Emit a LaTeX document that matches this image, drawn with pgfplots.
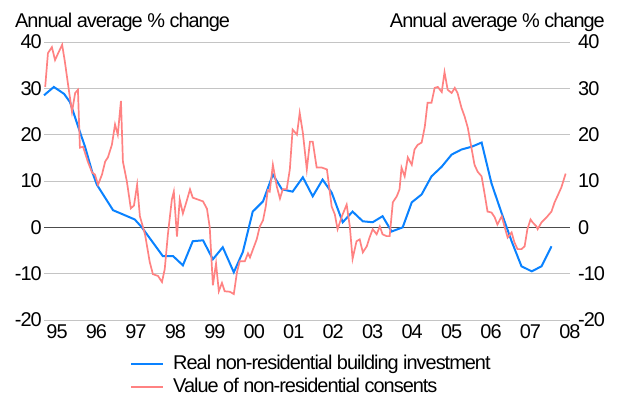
\documentclass[border=0pt]{standalone}
\usepackage{fontspec}
\setmainfont{Liberation Sans}[LetterSpace=-5]
\usepackage{pgfplots}
\usepackage{pgfplotstable}
\pgfplotsset{compat=1.18}
\definecolor{invblue}{HTML}{0A82FF}
\definecolor{conpink}{HTML}{FF8282}
\definecolor{gridgrey}{HTML}{C4C4C4}

% real non-residential building investment, annual average % change
\pgfplotstableread{
year value
1994.67 28.5
1994.92 30.3
1995.18 28.8
1995.33 27.0
1995.58 20.6
1995.71 17.4
1995.89 12.0
1996.01 9.2
1996.42 3.7
1996.97 1.7
1997.15 0.0
1997.68 -6.2
1997.94 -6.2
1998.19 -8.2
1998.44 -3.0
1998.70 -2.8
1998.95 -6.9
1999.20 -4.3
1999.48 -9.7
1999.71 -5.3
1999.96 3.4
2000.22 5.6
2000.47 11.4
2000.70 8.2
2000.97 7.7
2001.23 10.8
2001.48 6.7
2001.73 10.3
2001.96 7.5
2002.24 1.1
2002.49 3.4
2002.75 1.3
2003.00 1.1
2003.25 2.4
2003.48 -0.9
2003.76 0.0
2003.99 5.4
2004.24 7.1
2004.49 11.0
2004.75 13.1
2005.00 15.7
2005.25 16.8
2005.51 17.4
2005.76 18.3
2006.01 9.5
2006.27 3.0
2006.52 -3.0
2006.77 -8.4
2007.03 -9.5
2007.28 -8.4
2007.53 -4.1
}\investment

% value of non-residential consents, annual average % change
\pgfplotstableread{
year value
1994.70 30.3
1994.77 37.6
1994.87 38.9
1994.95 36.1
1995.03 37.6
1995.13 39.4
1995.20 35.7
1995.28 30.8
1995.38 24.9
1995.46 29.0
1995.53 29.7
1995.58 17.2
1995.66 17.4
1995.78 14.2
1995.89 11.8
1995.96 11.4
1996.04 9.2
1996.14 11.4
1996.22 14.2
1996.29 15.1
1996.39 17.8
1996.47 22.2
1996.54 20.0
1996.62 27.3
1996.67 14.2
1996.77 9.9
1996.87 4.1
1996.95 4.7
1997.03 9.2
1997.10 2.4
1997.23 -1.5
1997.35 -7.5
1997.43 -10.1
1997.56 -10.5
1997.66 -11.8
1997.73 -9.0
1997.81 -1.5
1997.91 6.0
1997.96 7.7
1998.04 -2.0
1998.11 6.0
1998.19 3.0
1998.29 5.8
1998.37 8.2
1998.44 6.4
1998.57 6.0
1998.70 5.6
1998.80 4.0
1998.87 0.0
1998.95 -12.5
1999.03 -7.8
1999.10 -13.8
1999.18 -12.0
1999.25 -13.8
1999.38 -13.9
1999.48 -14.4
1999.56 -9.7
1999.63 -7.3
1999.76 -7.3
1999.84 -5.6
1999.89 -6.5
2000.06 -2.6
2000.14 0.2
2000.22 1.5
2000.29 4.5
2000.34 8.0
2000.39 7.7
2000.47 13.5
2000.57 8.8
2000.65 6.2
2000.72 8.2
2000.82 8.2
2000.90 12.5
2000.97 21.1
2001.08 20.0
2001.15 24.7
2001.23 20.4
2001.33 12.5
2001.41 18.5
2001.48 18.5
2001.58 12.9
2001.71 12.9
2001.84 12.5
2001.96 4.5
2002.04 2.8
2002.11 -0.4
2002.22 2.4
2002.34 4.9
2002.42 0.2
2002.49 -6.8
2002.59 -3.0
2002.67 -2.6
2002.75 -5.4
2002.85 -4.1
2002.92 -2.2
2003.00 -0.4
2003.10 -1.5
2003.18 0.2
2003.25 -1.5
2003.35 -1.9
2003.43 -1.9
2003.51 5.4
2003.61 6.7
2003.68 8.2
2003.73 12.9
2003.81 11.0
2003.89 15.1
2003.99 13.5
2004.06 16.8
2004.14 17.8
2004.24 18.3
2004.32 21.7
2004.39 26.9
2004.49 26.9
2004.57 30.1
2004.65 30.3
2004.75 29.2
2004.82 33.5
2004.90 29.7
2005.00 29.0
2005.08 30.1
2005.15 29.0
2005.25 25.8
2005.33 23.9
2005.41 21.5
2005.51 16.8
2005.58 13.5
2005.66 12.0
2005.76 11.0
2005.84 7.0
2005.91 3.4
2006.01 3.2
2006.09 2.2
2006.16 0.6
2006.27 2.4
2006.34 0.2
2006.42 -2.2
2006.52 -1.1
2006.59 -3.2
2006.67 -4.7
2006.77 -4.7
2006.85 -4.1
2006.92 -0.4
2007.00 1.7
2007.05 1.1
2007.15 0.2
2007.18 -0.4
2007.28 1.1
2007.41 2.2
2007.53 3.4
2007.61 5.4
2007.68 6.7
2007.78 8.6
2007.89 11.6
}\consents

\begin{document}
\fontsize{20}{23}\selectfont
\begin{tikzpicture}[font=\fontsize{20}{23}\selectfont]
\begin{axis}[
    scale only axis,
    width=526bp, height=278bp,
    xmin=1994.67, xmax=2008,
    ymin=-20, ymax=40,
    clip=false,
    axis line style={draw=none},
    major tick length=0pt,
    xtick={1995,...,2008},
    xticklabels={95,96,97,98,99,00,01,02,03,04,05,06,07,08},
    ytick={-20,-10,...,40},
    ymajorgrids,
    grid style={gridgrey, line width=0.9bp},
    extra y ticks={0},
    extra y tick labels={},
    extra y tick style={grid style={black!70, line width=1.3bp}},
    /pgf/number format/assume math mode=true,
    yticklabel style={anchor=east, inner sep=0pt, xshift=-2bp},
    xticklabel style={anchor=north, inner sep=0pt, yshift=-4bp},
    legend style={draw=none, fill=none, inner sep=0pt,
        at={(0.1635,-0.125)}, anchor=north west,
        row sep=6bp,
        nodes={inner sep=0pt, anchor=west},
        /tikz/every odd column/.append style={column sep=9bp}},
    legend cell align=left,
    legend image code/.code={\draw[#1] (0bp,0bp) -- (32bp,0bp);},
]
\addplot[invblue, line width=2bp] table[x=year, y=value] {\investment};
\addplot[conpink, line width=1.7bp] table[x=year, y=value] {\consents};
\legend{Real non-residential building investment, Value of non-residential consents}
\coordinate (SW) at (rel axis cs:0,0);
\node[anchor=base west, inner sep=0pt] at ([shift={(-29bp,15bp)}]rel axis cs:0,1) {Annual average \% change};
\node[anchor=base east, inner sep=0pt] at ([shift={(35bp,15bp)}]rel axis cs:1,1) {Annual average \% change};
\end{axis}
\begin{axis}[
    scale only axis,
    width=526bp, height=278bp,
    xmin=1994.67, xmax=2008,
    ymin=-20, ymax=40,
    axis line style={draw=none},
    major tick length=0pt,
    hide x axis,
    ytick={-20,-10,...,40},
    yticklabel pos=right,
    /pgf/number format/assume math mode=true,
    yticklabel style={anchor=west, inner sep=0pt, xshift=8bp},
]
\end{axis}
\pgfresetboundingbox
\path[use as bounding box] ([shift={(-44bp,-83bp)}]SW) rectangle ([shift={(577bp,320bp)}]SW);
\end{tikzpicture}
\end{document}
